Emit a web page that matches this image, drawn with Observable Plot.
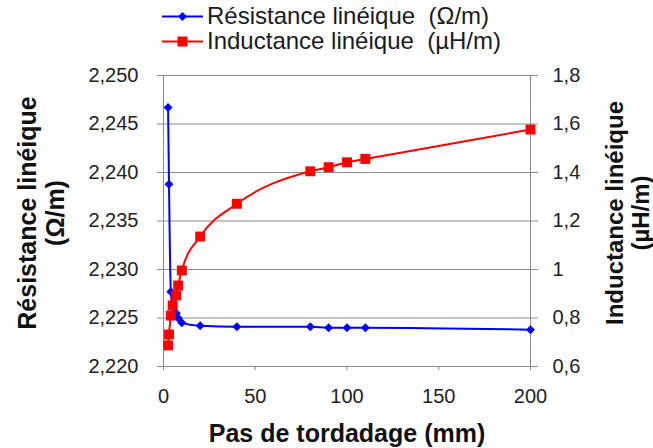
<!DOCTYPE html>
<html><head><meta charset="utf-8">
<script src="https://cdn.jsdelivr.net/npm/d3@7"></script>
<script src="https://cdn.jsdelivr.net/npm/@observablehq/plot@0.6"></script>
<style>
body{margin:0;background:#fff;font-family:"Liberation Sans",Arial,sans-serif;}
#legend{position:relative;height:62px;width:653px;}
.item{position:absolute;left:162px;height:28px;display:flex;align-items:center;font-size:24px;color:#1a1a1a;white-space:pre;}
.item svg{margin-right:4px;}
</style></head><body>
<div id="legend"></div>
<div id="chart"></div>
<script>
const pasMm      = [2.5, 3, 4, 5, 7, 8, 10, 20, 40, 80, 90, 100, 110, 200];
const resistance = [2.2467, 2.2388, 2.2277, 2.2262, 2.2255, 2.2250, 2.2245, 2.2242, 2.2241, 2.2241, 2.2240, 2.2240, 2.2240, 2.2238];
const inductance = [0.687, 0.732, 0.810, 0.852, 0.893, 0.934, 0.996, 1.136, 1.271, 1.405, 1.422, 1.442, 1.456, 1.577];
const resTicks = [2.220, 2.225, 2.230, 2.235, 2.240, 2.245, 2.250];
const indTicks = [0.6, 0.8, 1.0, 1.2, 1.4, 1.6, 1.8];
const xTicks = [0, 50, 100, 150, 200];
const seriesNames = ["Résistance linéique  (Ω/m)", "Inductance linéique  (µH/m)"];
const seriesColors = ["#0000ff", "#ff0000"];
const xTitle = "Pas de tordadage (mm)";
const yLeftTitle = "Résistance linéique\n(Ω/m)";
const yRightTitle = "Inductance linéique\n(µH/m)";

const R0 = resTicks[0], R1 = resTicks[resTicks.length - 1];
const L0 = indTicks[0], L1 = indTicks[indTicks.length - 1];
const toLeft = v => R0 + (v - L0) / (L1 - L0) * (R1 - R0);
const fromLeft = d => L0 + (d - R0) / (R1 - R0) * (L1 - L0);

const rows = pasMm.map((x, i) => ({x, r: resistance[i], l: toLeft(inductance[i])}));

const diamondSym = {draw(ctx, size) { const h = Math.sqrt(size / 2); ctx.moveTo(0, -h); ctx.lineTo(h, 0); ctx.lineTo(0, h); ctx.lineTo(-h, 0); ctx.closePath(); }};

// legend
const legend = document.getElementById("legend");
seriesNames.forEach((name, i) => {
  const div = document.createElement("div");
  div.className = "item";
  div.style.top = (i === 0 ? 2 : 27) + "px";
  const marker = i === 0
    ? `<path d="M20.5,2 L25,6.5 L20.5,11 L16,6.5 Z" fill="${seriesColors[i]}"/>`
    : `<rect x="15.5" y="1.5" width="10" height="10" fill="${seriesColors[i]}"/>`;
  div.innerHTML = `<svg width="41" height="13"><line x1="0" x2="41" y1="6.5" y2="6.5" stroke="${seriesColors[i]}" stroke-width="2"/>${marker}</svg><span>${name}</span>`;
  legend.appendChild(div);
});

const gray = "#8a8a8a";
const fmtRes = d => d.toFixed(3).replace(".", ",");
const fmtInd = d => String(Math.round(fromLeft(d) * 10) / 10).replace(".", ",");

const chart = Plot.plot({
  width: 653, height: 386,
  marginLeft: 163, marginRight: 123, marginTop: 13, marginBottom: 82,
  x: {domain: [0, 200]},
  y: {domain: [R0, R1]},
  style: {fontFamily: "'Liberation Sans', Arial, sans-serif", fontSize: "20px", color: "#222", background: "white"},
  marks: [
    Plot.ruleY(resTicks, {stroke: gray, strokeWidth: 1}),
    Plot.ruleX([0, 200], {stroke: gray, strokeWidth: 1}),
    Plot.axisY(resTicks, {anchor: "left", tickSize: 6, tickPadding: 19, tickFormat: fmtRes, stroke: gray, fill: "#222", label: null}),
    Plot.axisY(resTicks, {anchor: "right", tickSize: 7, tickPadding: 15, tickFormat: fmtInd, stroke: gray, fill: "#222", label: null}),
    Plot.axisX(xTicks, {tickSize: 4, tickPadding: 18, stroke: gray, fill: "#222", label: null}),
    Plot.line(rows, {x: "x", y: "r", stroke: seriesColors[0], strokeWidth: 2, curve: "monotone-x"}),
    Plot.dot(rows, {x: "x", y: "r", symbol: diamondSym, r: 3.6, fill: seriesColors[0], stroke: "none"}),
    Plot.line(rows, {x: "x", y: "l", stroke: seriesColors[1], strokeWidth: 2, curve: "monotone-x"}),
    Plot.dot(rows, {x: "x", y: "l", symbol: "square", r: 5.6, fill: seriesColors[1], stroke: "none"}),
    Plot.text([yLeftTitle], {frameAnchor: "left", textAnchor: "middle", lineAnchor: "middle", rotate: -90, dx: -122, dy: -8, fontSize: 25, fontWeight: "bold", fill: "#111", lineHeight: 1.12}),
    Plot.text([yRightTitle], {frameAnchor: "right", textAnchor: "middle", lineAnchor: "middle", rotate: -90, dx: 97, dy: -8, fontSize: 24, fontWeight: "bold", fill: "#111", lineHeight: 1.08}),
    Plot.text([xTitle], {frameAnchor: "bottom", textAnchor: "middle", lineAnchor: "middle", dy: 67, fontSize: 25, fontWeight: "bold", fill: "#111"})
  ]
});
document.getElementById("chart").appendChild(chart);
</script>
</body></html>
